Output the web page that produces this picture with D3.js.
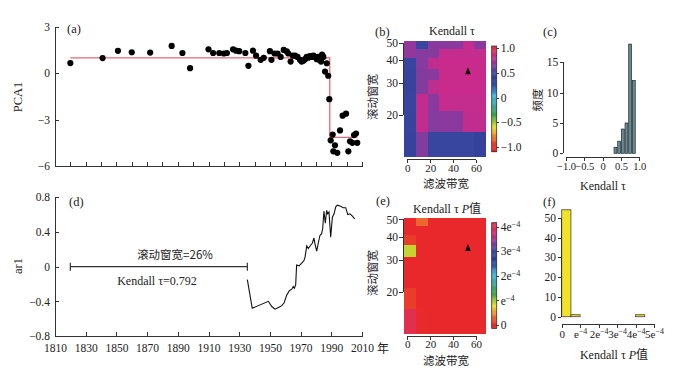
<!DOCTYPE html>
<html><head><meta charset="utf-8">
<script src="https://cdn.jsdelivr.net/npm/d3@7"></script>
<style>
body{margin:0;background:#fff}
svg{display:block}
text{font-family:"Liberation Serif","Times New Roman",serif;fill:#222}
.cjk{font-family:"Noto Sans CJK SC","Noto Sans CJK JP",sans-serif}
.ax path,.ax line{stroke:#333;stroke-width:1;shape-rendering:crispEdges}
.ax text{font-size:11.5px;fill:#222;font-family:"Liberation Serif",serif}
.sm text{font-size:11px}
.xs text{font-size:10.5px}
</style></head><body>
<svg id="c" width="683" height="371"></svg>
<script>
// ---------------- data ----------------
const pcaYears = [1820,1841,1851,1860,1872,1886,1893,1898,1910,1913,1917,1920,1922,1926,1928,1930,1934,1936,1939,1941,1944,1946,1950,1951,1953,1955,1957,1959,1961,1962,1963.5,1965,1966.4,1968,1969.6,1970.7,1971.8,1972.9,1974,1975,1976,1977.2,1978.3,1979.4,1980.5,1981.5,1982.2,1983.3,1984,1984.8,1985.9,1987,1988,1988.7,1989.6,1990.9,1991.3,1992.4,1993.9,1995.7,1997.4,1999.6,2001.1,2002.2,2003.7,2004.8,2006.1,2006.9];
const pcaValues = [0.65,0.97,1.44,1.35,1.33,1.76,1.30,0.32,1.54,1.30,1.30,1.27,1.30,1.54,1.45,1.42,1.30,0.47,1.45,1.13,0.86,0.99,1.42,0.86,1.27,1.27,1.05,1.50,1.40,1.27,0.75,1.13,1.13,1.05,0.86,0.75,0.80,0.90,1.05,1.00,1.10,1.05,1.13,1.05,0.90,1.05,0.86,0.75,1.20,1.05,0.10,0.64,-0.17,-1.68,-4.34,-3.97,-5.05,-4.66,-5.15,-3.70,-2.75,-2.62,-5.05,-4.40,-4.50,-4.00,-3.90,-4.50];
const stepYears = [1820, 1989, 1989, 2007];
const stepValues = [0.98, 0.98, -4.15, -4.15];

const ar1Years = [1935.3,1938.5,1949,1951.2,1953.3,1955.5,1957.7,1959.2,1960.9,1962.6,1964.2,1965.2,1965.9,1966.8,1967.4,1969,1970.7,1972.2,1972.9,1974,1975,1976.6,1977.6,1978.7,1979.4,1980.5,1981.5,1982.6,1983.7,1984.4,1985.2,1986.1,1987,1987.6,1988.5,1989.6,1990.7,1991.8,1992.9,1993.9,1995.7,1997.8,1999.4,2000.7,2002.2,2003.9,2005.2];
const ar1Values = [-0.15,-0.48,-0.40,-0.46,-0.49,-0.47,-0.45,-0.42,-0.33,-0.28,-0.26,-0.23,-0.25,-0.21,0.02,0.01,0.04,0.07,0.11,0.24,0.21,0.25,0.27,0.33,0.26,0.18,0.27,0.36,0.38,0.44,0.64,0.50,0.65,0.61,0.63,0.34,0.57,0.61,0.69,0.71,0.70,0.68,0.68,0.60,0.61,0.58,0.55];
const windowSpan = [1820, 1935.3];
const windowText = "滚动窗宽=26%";
const tauText = "Kendall τ=0.792";

const bandwidths = [2.5, 12.7, 22.9, 33.1, 43.3, 53.5, 63.7];
const windows = [48.5, 43.5, 38.5, 33.5, 28.5, 23.5, 18.5, 13.5];
const tauGrid = [
  [0.70, 0.48, 0.68, 0.68, 0.68, 0.82, 0.68],
  [0.70, 0.67, 0.67, 0.82, 0.82, 0.82, 0.82],
  [0.47, 0.67, 0.81, 0.83, 0.83, 0.83, 0.83],
  [0.46, 0.66, 0.68, 0.83, 0.83, 0.84, 0.83],
  [0.46, 0.66, 0.80, 0.83, 0.83, 0.83, 0.83],
  [0.47, 0.81, 0.68, 0.82, 0.82, 0.82, 0.82],
  [0.46, 0.81, 0.67, 0.68, 0.68, 0.81, 0.81],
  [0.45, 0.66, 0.48, 0.48, 0.48, 0.48, 0.44]
];
const pGrid = [
  [0.0,    0.33e-4, 0, 0, 0, 0, 0],
  [0.0,    0, 0, 0, 0, 0, 0],
  [0.12e-4,0, 0, 0, 0, 0, 0],
  [0.9e-4, 0, 0, 0, 0, 0, 0],
  [0.0,    0, 0, 0, 0, 0, 0],
  [0.0,    0, 0, 0, 0, 0, 0],
  [0.12e-4,0, 0, 0, 0, 0, 0],
  [4.2e-4, 0.02e-4, 0, 0, 0, 0, 0]
];
const marker = {bandwidth: 53, window: 34.5};

const tauBinStarts = [0.3, 0.4, 0.5, 0.6, 0.7, 0.8];
const tauBinWidth = 0.1;
const tauCounts = [1, 2, 4, 5, 18, 12];
const pBinStarts = [0, 0.5e-4, 1e-4, 1.5e-4, 2e-4, 2.5e-4, 3e-4, 3.5e-4, 4e-4];
const pBinWidth = 0.5e-4;
const pCounts = [54, 1, 0, 0, 0, 0, 0, 0, 1];

const cmapStops = [-1.0,-0.9,-0.75,-0.6,-0.35,-0.15,0.05,0.2,0.35,0.5,0.68,0.84,1.0];
const cmapColors = ["#e8282a","#ea4a2c","#f09030","#e8e030","#38a040","#3aa8a0","#45b5d8","#2f5cb0","#2a3a94","#3a48a2","#8a3a9e","#cc2a8a","#e0304e"];

// ---------------- drawing ----------------
const svg = d3.select("#c");
const cmap = d3.scaleLinear().domain(cmapStops).range(cmapColors).clamp(true);

function txt(x, y, s, opt = {}) {
  const t = svg.append("text").attr("x", x).attr("y", y).text(s)
    .attr("font-size", opt.size || 12).attr("text-anchor", opt.anchor || "start");
  if (opt.cls) t.attr("class", opt.cls);
  if (opt.rotate) t.attr("transform", `rotate(-90,${x},${y})`);
  return t;
}
function sup(sel, base, exp) {
  sel.text(null);
  sel.append("tspan").text(base);
  sel.append("tspan").text(exp).attr("dy", "-0.45em").attr("font-size", "0.72em");
}
function expLabel(v) {
  if (v === 0) return ["0", ""];
  const k = Math.round(v / 1e-4);
  return [(k === 1 ? "" : k) + "e", "−4"];
}

// ===== (a) =====
const xYear = d3.scaleLinear([1810, 2010], [55, 362]);
const yA = d3.scaleLinear([-6, 3], [166, 26.7]);
svg.append("g").attr("class", "ax").attr("transform", "translate(55,0)")
  .call(d3.axisLeft(yA).tickValues([-6, -3, 0, 3]).tickSize(-4).tickSizeOuter(0).tickPadding(5).tickFormat(d3.format("d")));
svg.append("g").attr("class", "ax").attr("transform", "translate(0,166)")
  .call(d3.axisBottom(xYear).tickValues(d3.range(1820, 2011, 10)).tickSize(-4).tickSizeOuter(0).tickFormat(""));
svg.append("path").datum(stepYears.map((y, i) => [y, stepValues[i]]))
  .attr("d", d3.line().x(d => xYear(d[0])).y(d => yA(d[1])))
  .attr("fill", "none").attr("stroke", "#e46a78").attr("stroke-width", 1.3);
svg.append("g").selectAll("circle").data(pcaYears.map((y, i) => [y, pcaValues[i]])).join("circle")
  .attr("cx", d => xYear(d[0])).attr("cy", d => yA(d[1])).attr("r", 3.1).attr("fill", "#000");
txt(67, 33, "(a)", {size: 12.5});
txt(22, 97, "PCA1", {size: 12.5, anchor: "middle", rotate: true});

// ===== (d) =====
const yD = d3.scaleLinear([-0.8, 0.8], [336, 197.3]);
svg.append("g").attr("class", "ax").attr("transform", "translate(55,0)")
  .call(d3.axisLeft(yD).tickValues([-0.8, -0.4, 0, 0.4, 0.8]).tickSize(-4).tickSizeOuter(0).tickPadding(5).tickFormat(d => d === 0 ? "0" : d3.format(".1f")(d)));
svg.append("g").attr("class", "ax").attr("transform", "translate(0,336)")
  .call(d3.axisBottom(xYear).tickValues(d3.range(1810, 2011, 20)).tickSize(-4).tickSizeOuter(0).tickPadding(8).tickFormat(d3.format("d")));
svg.append("path").datum(ar1Years.map((y, i) => [y, ar1Values[i]]))
  .attr("d", d3.line().x(d => xYear(d[0])).y(d => yD(d[1])))
  .attr("fill", "none").attr("stroke", "#111").attr("stroke-width", 1.1);
{
  const y0 = yD(0), xa = xYear(windowSpan[0]), xb = xYear(windowSpan[1]);
  const g = svg.append("g").attr("stroke", "#333").attr("stroke-width", 1.2);
  g.append("line").attr("x1", xa).attr("x2", xb).attr("y1", y0).attr("y2", y0);
  g.append("line").attr("x1", xa).attr("x2", xa).attr("y1", y0 - 4).attr("y2", y0 + 4);
  g.append("line").attr("x1", xb).attr("x2", xb).attr("y1", y0 - 4).attr("y2", y0 + 4);
  txt(175, y0 - 8, windowText, {anchor: "middle", cls: "cjk", size: 11.5});
  txt(157, y0 + 18, tauText, {anchor: "middle", size: 12});
}
txt(69, 206, "(d)", {size: 12.5});
txt(22, 266, "ar1", {size: 12.5, anchor: "middle", rotate: true});
txt(383, 353, "年", {size: 12, anchor: "middle", cls: "cjk"});

// ===== heatmaps =====
const xH = d3.scaleLinear([-2.6, 68.8], [404.3, 486]);
const bw = bandwidths[1] - bandwidths[0];
function heatmap(yScale, grid, colorOf, axisY) {
  const [lo, hi] = yScale.domain();
  const cells = [];
  grid.forEach((row, i) => row.forEach((v, j) => cells.push({w: windows[i], b: bandwidths[j], v})));
  svg.append("g").selectAll("rect").data(cells).join("rect")
    .attr("x", d => xH(d.b - bw / 2)).attr("width", d => xH(d.b + bw / 2) - xH(d.b - bw / 2) + 0.3)
    .attr("y", d => yScale(Math.min(hi, d.w + 2.5)))
    .attr("height", d => yScale(Math.max(lo, d.w - 2.5)) - yScale(Math.min(hi, d.w + 2.5)) + 0.3)
    .attr("fill", d => colorOf(d.v)).attr("shape-rendering", "crispEdges");
  svg.append("path").attr("d", d3.symbol(d3.symbolTriangle, 20)())
    .attr("transform", `translate(${xH(marker.bandwidth)},${yScale(marker.window)}) scale(0.8,1.2)`).attr("fill", "#000");
  const gy = svg.append("g").attr("class", "ax").attr("transform", "translate(403,0)")
    .call(d3.axisLeft(yScale).tickValues([20, 30, 40, 50]).tickSize(4).tickPadding(1).tickFormat(d3.format("d")));
  gy.select(".domain").remove();
  gy.append("line").attr("y1", yScale(20)).attr("y2", yScale(50));
  const gx = svg.append("g").attr("class", "ax sm").attr("transform", `translate(0,${axisY})`)
    .call(d3.axisBottom(xH).tickValues([0, 20, 40, 60]).tickSize(3.5).tickPadding(1).tickFormat(d3.format("d")));
  gx.select(".domain").remove();
  gx.append("line").attr("x1", xH(0)).attr("x2", xH(60));
}
const yB = d3.scaleLog([11.7, 51.8], [156.7, 40]);
heatmap(yB, tauGrid, v => cmap(v), 159.5);
const yE = d3.scaleLog([11.8, 51.3], [333.3, 217.3]);
const pToC = d3.scaleLinear([0, 4e-4], [-1, 1]);
heatmap(yE, pGrid, p => cmap(pToC(p)), 336);

function colorbar(scale, y0, y1, ticks, fmt) {
  const x0 = 491.7, w = 5;
  const n = 120, g = svg.append("g");
  const vTop = scale.invert(y0), vBot = scale.invert(y1);
  for (let i = 0; i < n; i++) {
    const a = vBot + (vTop - vBot) * i / n, b = vBot + (vTop - vBot) * (i + 1) / n;
    g.append("rect").attr("x", x0).attr("width", w)
      .attr("y", scale(b)).attr("height", scale(a) - scale(b) + 0.4)
      .attr("fill", fmt.color((a + b) / 2));
  }
  g.append("rect").attr("x", x0).attr("y", y0).attr("width", w).attr("height", y1 - y0)
    .attr("fill", "none").attr("stroke", "#333").attr("stroke-width", 0.8);
  const ga = svg.append("g").attr("class", "ax").attr("transform", `translate(${x0 + w},0)`)
    .call(d3.axisRight(scale).tickValues(ticks).tickSize(2.5).tickPadding(1.5).tickFormat(fmt.label));
  ga.select(".domain").remove();
  return ga;
}
const cbB = d3.scaleLinear([-1, 1], [146.7, 48.3]);
colorbar(cbB, 46, 151.7, [-1, -0.5, 0, 0.5, 1], {color: v => cmap(v), label: d => d === 0 ? "0" : d3.format(".1f")(d)});
const cbE = d3.scaleLinear([0, 4e-4], [325, 226.7]);
const gE = colorbar(cbE, 222.7, 328.3, [0, 1e-4, 2e-4, 3e-4, 4e-4], {color: p => cmap(pToC(p)), label: d => ""});
gE.selectAll(".tick text").each(function (d) { const [b, e] = expLabel(d); sup(d3.select(this), b, e); });

txt(375, 36, "(b)", {size: 12.5});
txt(452, 35, "Kendall τ", {size: 12, anchor: "middle"});
txt(376.5, 97, "滚动窗宽", {size: 11.5, anchor: "middle", rotate: true, cls: "cjk"});
txt(446, 188, "滤波带宽", {size: 11.5, anchor: "middle", cls: "cjk"});
txt(376, 205, "(e)", {size: 12.5});
{
  const t = txt(447, 213, "", {size: 12, anchor: "middle"});
  t.append("tspan").text("Kendall τ ");
  t.append("tspan").text("P").attr("font-style", "italic");
  t.append("tspan").text("值").attr("class", "cjk");
}
txt(376.5, 273, "滚动窗宽", {size: 11.5, anchor: "middle", rotate: true, cls: "cjk"});
txt(446, 365, "滤波带宽", {size: 11.5, anchor: "middle", cls: "cjk"});

// ===== (c) =====
const xC = d3.scaleLinear([-1, 1], [566, 639.3]);
const yC = d3.scaleLinear([0, 15], [153.3, 62.3]);
svg.append("g").selectAll("rect").data(tauBinStarts.map((s, i) => ({s, c: tauCounts[i]}))).join("rect")
  .attr("x", d => xC(d.s) + 0.4).attr("width", d => xC(d.s + tauBinWidth) - xC(d.s) - 0.8)
  .attr("y", d => yC(d.c)).attr("height", d => yC(0) - yC(d.c))
  .attr("fill", "#6d8a90").attr("stroke", "#1a2a2e").attr("stroke-width", 0.7);
{
  const gy = svg.append("g").attr("class", "ax").attr("transform", "translate(563.3,0)")
    .call(d3.axisLeft(yC).tickValues([0, 5, 10, 15]).tickSize(3.5).tickPadding(1.5).tickFormat(d3.format("d")));
  gy.select(".domain").remove();
  gy.append("line").attr("y1", yC(0)).attr("y2", yC(15));
  const gx = svg.append("g").attr("class", "ax xs").attr("transform", "translate(0,157.3)")
    .call(d3.axisBottom(xC).tickValues([-1, -0.5, 0, 0.5, 1]).tickSize(3.5).tickPadding(2).tickFormat(d => d === 0 ? "0" : d3.format(".1f")(d)));
  gx.select(".domain").remove();
  gx.append("line").attr("x1", xC(-1)).attr("x2", xC(1));
}
txt(543, 36, "(c)", {size: 12.5});
txt(542, 100, "频度", {size: 11.5, anchor: "middle", rotate: true, cls: "cjk"});
txt(603, 190, "Kendall τ", {size: 12, anchor: "middle"});

// ===== (f) =====
const xF = d3.scaleLinear([0, 5e-4], [561.7, 654]);
const yF = d3.scaleLinear([0, 50], [316.7, 217.7]);
svg.append("g").selectAll("rect").data(pBinStarts.map((s, i) => ({s, c: pCounts[i]}))).join("rect")
  .attr("x", d => xF(d.s)).attr("width", d => xF(d.s + pBinWidth) - xF(d.s))
  .attr("y", d => yF(d.c)).attr("height", d => yF(0) - yF(d.c))
  .attr("fill", "#f2e228").attr("stroke", "#444").attr("stroke-width", 0.8);
{
  const gy = svg.append("g").attr("class", "ax").attr("transform", "translate(561,0)")
    .call(d3.axisLeft(yF).tickValues([0, 10, 20, 30, 40, 50]).tickSize(3.5).tickPadding(1.5).tickFormat(d3.format("d")));
  gy.select(".domain").remove();
  gy.append("line").attr("y1", yF(0)).attr("y2", yF(50));
  const gx = svg.append("g").attr("class", "ax sm").attr("transform", "translate(0,324.3)")
    .call(d3.axisBottom(xF).tickValues([0, 1e-4, 2e-4, 3e-4, 4e-4, 5e-4]).tickSize(3.5).tickPadding(2).tickFormat(""));
  gx.select(".domain").remove();
  gx.append("line").attr("x1", xF(0)).attr("x2", xF(5e-4));
  gx.selectAll(".tick text").each(function (d) { const [b, e] = expLabel(d); sup(d3.select(this), b, e); });
}
txt(543, 206, "(f)", {size: 12.5});
{
  const t = txt(614, 359, "", {size: 12, anchor: "middle"});
  t.append("tspan").text("Kendall τ ");
  t.append("tspan").text("P").attr("font-style", "italic");
  t.append("tspan").text("值").attr("class", "cjk");
}
</script></body></html>
